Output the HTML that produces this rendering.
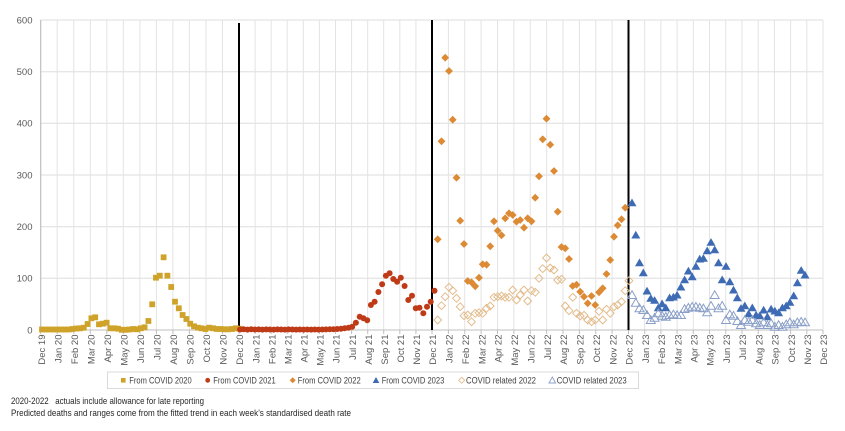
<!DOCTYPE html>
<html><head><meta charset="utf-8"><style>
html,body{margin:0;padding:0;background:#fff;}
svg{display:block;}
text{font-family:"Liberation Sans",Arial,sans-serif;}
</style></head><body>
<svg width="845" height="431" viewBox="0 0 845 431" xmlns="http://www.w3.org/2000/svg">
<defs>
<marker id="sq" markerUnits="userSpaceOnUse" markerWidth="10" markerHeight="10" refX="0" refY="0" overflow="visible"><rect x="-2.9" y="-2.9" width="5.8" height="5.8" fill="#CFA32A"/></marker>
<marker id="ci" markerUnits="userSpaceOnUse" markerWidth="10" markerHeight="10" refX="0" refY="0" overflow="visible"><circle r="3" fill="#BF3A17"/></marker>
<marker id="df" markerUnits="userSpaceOnUse" markerWidth="10" markerHeight="10" refX="0" refY="0" overflow="visible"><polygon points="0,-3.9 3.9,0 0,3.9 -3.9,0" fill="#DC8A34"/></marker>
<marker id="do" markerUnits="userSpaceOnUse" markerWidth="10" markerHeight="10" refX="0" refY="0" overflow="visible"><polygon points="0,-3.9 3.9,0 0,3.9 -3.9,0" fill="none" stroke="#E3BC8C" stroke-width="1"/></marker>
<marker id="tf" markerUnits="userSpaceOnUse" markerWidth="10" markerHeight="10" refX="0" refY="0" overflow="visible"><polygon points="0,-4.2 4.5,3.5 -4.5,3.5" fill="#3E6BB4"/></marker>
<marker id="to" markerUnits="userSpaceOnUse" markerWidth="10" markerHeight="10" refX="0" refY="0" overflow="visible"><polygon points="0,-4.2 4.5,3.5 -4.5,3.5" fill="none" stroke="#8BA0C8" stroke-width="1"/></marker>
</defs>
<rect width="845" height="431" fill="#fff"/>
<path d="M40.5 20H823M40.5 71.7H823M40.5 123.3H823M40.5 175H823M40.5 226.7H823M40.5 278.3H823" stroke="#dedede" stroke-width="1" fill="none"/>
<path d="M57.2 20V330M73.75 20V330M90.3 20V330M106.8 20V330M123.3 20V330M139.9 20V330M156.4 20V330M172.9 20V330M189.4 20V330M206 20V330M222.5 20V330M255.1 20V330M271.2 20V330M287.2 20V330M303.3 20V330M319.4 20V330M335.5 20V330M351.6 20V330M367.7 20V330M383.7 20V330M399.8 20V330M415.9 20V330M448.4 20V330M464.75 20V330M481.1 20V330M497.5 20V330M513.9 20V330M530.25 20V330M546.6 20V330M563 20V330M579.4 20V330M595.75 20V330M612.1 20V330M644.7 20V330M660.9 20V330M677.1 20V330M693.3 20V330M709.5 20V330M725.75 20V330M741.95 20V330M758.2 20V330M774.4 20V330M790.6 20V330M806.8 20V330M823 20V330" stroke="#e3e3e3" stroke-width="1" fill="none"/>
<path d="M40.7 20V330" stroke="#bfbfbf" stroke-width="1.2"/>
<path d="M40.7 330H823" stroke="#bfbfbf" stroke-width="1"/>
<path d="M40.7 330v4M57.2 330v4M73.75 330v4M90.3 330v4M106.8 330v4M123.3 330v4M139.9 330v4M156.4 330v4M172.9 330v4M189.4 330v4M206 330v4M222.5 330v4M239 330v4M255.1 330v4M271.2 330v4M287.2 330v4M303.3 330v4M319.4 330v4M335.5 330v4M351.6 330v4M367.7 330v4M383.7 330v4M399.8 330v4M415.9 330v4M432 330v4M448.4 330v4M464.75 330v4M481.1 330v4M497.5 330v4M513.9 330v4M530.25 330v4M546.6 330v4M563 330v4M579.4 330v4M595.75 330v4M612.1 330v4M628.5 330v4M644.7 330v4M660.9 330v4M677.1 330v4M693.3 330v4M709.5 330v4M725.75 330v4M741.95 330v4M758.2 330v4M774.4 330v4M790.6 330v4M806.8 330v4M823 330v4" stroke="#bfbfbf" stroke-width="1"/>
<path d="M239 23V330M432 20V330M628.5 20V330" stroke="#000" stroke-width="2"/>
<g font-size="9.5" fill="#595959" text-anchor="end">
<text x="32.5" y="23.3">600</text>
<text x="32.5" y="75">500</text>
<text x="32.5" y="126.6">400</text>
<text x="32.5" y="178.3">300</text>
<text x="32.5" y="230">200</text>
<text x="32.5" y="281.6">100</text>
<text x="32.5" y="333.3">0</text>
</g>
<g font-size="9.5" fill="#595959" text-anchor="end">
<text transform="translate(44.9,334.5) rotate(-90)">Dec 19</text>
<text transform="translate(61.4,334.5) rotate(-90)">Jan 20</text>
<text transform="translate(77.95,334.5) rotate(-90)">Feb 20</text>
<text transform="translate(94.5,334.5) rotate(-90)">Mar 20</text>
<text transform="translate(111,334.5) rotate(-90)">Apr 20</text>
<text transform="translate(127.5,334.5) rotate(-90)">May 20</text>
<text transform="translate(144.1,334.5) rotate(-90)">Jun 20</text>
<text transform="translate(160.6,334.5) rotate(-90)">Jul 20</text>
<text transform="translate(177.1,334.5) rotate(-90)">Aug 20</text>
<text transform="translate(193.6,334.5) rotate(-90)">Sep 20</text>
<text transform="translate(210.2,334.5) rotate(-90)">Oct 20</text>
<text transform="translate(226.7,334.5) rotate(-90)">Nov 20</text>
<text transform="translate(243.2,334.5) rotate(-90)">Dec 20</text>
<text transform="translate(259.3,334.5) rotate(-90)">Jan 21</text>
<text transform="translate(275.4,334.5) rotate(-90)">Feb 21</text>
<text transform="translate(291.4,334.5) rotate(-90)">Mar 21</text>
<text transform="translate(307.5,334.5) rotate(-90)">Apr 21</text>
<text transform="translate(323.6,334.5) rotate(-90)">May 21</text>
<text transform="translate(339.7,334.5) rotate(-90)">Jun 21</text>
<text transform="translate(355.8,334.5) rotate(-90)">Jul 21</text>
<text transform="translate(371.9,334.5) rotate(-90)">Aug 21</text>
<text transform="translate(387.9,334.5) rotate(-90)">Sep 21</text>
<text transform="translate(404,334.5) rotate(-90)">Oct 21</text>
<text transform="translate(420.1,334.5) rotate(-90)">Nov 21</text>
<text transform="translate(436.2,334.5) rotate(-90)">Dec 21</text>
<text transform="translate(452.6,334.5) rotate(-90)">Jan 22</text>
<text transform="translate(468.95,334.5) rotate(-90)">Feb 22</text>
<text transform="translate(485.3,334.5) rotate(-90)">Mar 22</text>
<text transform="translate(501.7,334.5) rotate(-90)">Apr 22</text>
<text transform="translate(518.1,334.5) rotate(-90)">May 22</text>
<text transform="translate(534.45,334.5) rotate(-90)">Jun 22</text>
<text transform="translate(550.8,334.5) rotate(-90)">Jul 22</text>
<text transform="translate(567.2,334.5) rotate(-90)">Aug 22</text>
<text transform="translate(583.6,334.5) rotate(-90)">Sep 22</text>
<text transform="translate(599.95,334.5) rotate(-90)">Oct 22</text>
<text transform="translate(616.3,334.5) rotate(-90)">Nov 22</text>
<text transform="translate(632.7,334.5) rotate(-90)">Dec 22</text>
<text transform="translate(648.9,334.5) rotate(-90)">Jan 23</text>
<text transform="translate(665.1,334.5) rotate(-90)">Feb 23</text>
<text transform="translate(681.3,334.5) rotate(-90)">Mar 23</text>
<text transform="translate(697.5,334.5) rotate(-90)">Apr 23</text>
<text transform="translate(713.7,334.5) rotate(-90)">May 23</text>
<text transform="translate(729.95,334.5) rotate(-90)">Jun 23</text>
<text transform="translate(746.15,334.5) rotate(-90)">Jul 23</text>
<text transform="translate(762.4,334.5) rotate(-90)">Aug 23</text>
<text transform="translate(778.6,334.5) rotate(-90)">Sep 23</text>
<text transform="translate(794.8,334.5) rotate(-90)">Oct 23</text>
<text transform="translate(811,334.5) rotate(-90)">Nov 23</text>
<text transform="translate(827.2,334.5) rotate(-90)">Dec 23</text>
</g>
<g fill="none" stroke="none">
<polyline marker-start="url(#sq)" marker-mid="url(#sq)" marker-end="url(#sq)" points="42,329.5 45.8,329.5 49.6,329.5 53.4,329.5 57.2,329.5 61,329.5 64.8,329.5 68.6,329.5 72.4,329 76.2,328.5 80,328.3 83.8,327.7 87.6,324 91.4,318.3 95.2,317.3 99,324.3 102.8,323.7 106.6,322.7 110.4,328.3 114.2,328.3 118,328.7 121.8,329.8 125.6,329.8 129.4,329.5 133.2,329 137,329.3 140.8,328.3 144.6,327.3 148.4,321 152.2,304.3 156,277.7 159.8,275.7 163.6,257.3 167.4,275.7 171.2,287 175,301.7 178.8,308.3 182.6,315 186.4,319 190.2,323.7 194,326.3 197.8,327.7 201.6,328.3 205.4,329 209.2,327.7 213,328.3 216.8,329 220.6,329 224.4,329.3 228.2,329.3 232,329 235.8,328.3 239.6,328.7"/>
<polyline marker-start="url(#ci)" marker-mid="url(#ci)" marker-end="url(#ci)" points="240,329.5 243.7,329.3 247.5,329.6 251.2,329.3 255,329.5 258.7,329.4 262.4,329.6 266.2,329.4 269.9,329.5 273.7,329.6 277.4,329.4 281.1,329.5 284.9,329.6 288.6,329.4 292.4,329.5 296.1,329.6 299.8,329.5 303.6,329.6 307.3,329.5 311.1,329.6 314.8,329.5 318.5,329.6 322.3,329.5 326,329.4 329.8,329.3 333.5,329.2 337.2,329 341,328.7 344.7,328.3 348.5,327.7 352.2,326.7 355.9,322.7 359.7,316.7 363.4,318.3 367.2,320.3 370.9,305 374.6,301.7 378.4,292 382.1,284.3 385.9,275.7 389.6,273.3 393.3,279 397.1,281.7 400.8,277.7 404.6,286 408.3,300 412,295.7 415.8,308.3 419.5,307.7 423.3,313.3 427,306.7 430.7,301.7 434.5,290.7"/>
<polyline marker-start="url(#df)" marker-mid="url(#df)" marker-end="url(#df)" points="437.7,239.3 441.5,141.3 445.2,57.7 449,71 452.7,119.7 456.5,177.7 460.2,220.7 464,244 467.7,281 471.5,282.3 475.2,286.3 479,277.7 482.7,264.3 486.5,264.7 490.2,246.3 494,221.3 497.7,230.7 501.5,235.3 505.2,218.3 509,213.3 512.7,215 516.5,221.7 520.2,220 524,227.7 527.7,218.3 531.5,221.3 535.2,197.7 539,176.3 542.7,139.3 546.5,118.7 550.2,144.7 554,171 557.7,211.7 561.5,247 565.2,248.3 569,259 572.7,286 576.5,284.7 580.2,291.7 584,296.7 587.7,303.3 591.5,296 595.2,305 599,292.3 602.7,288.3 606.5,274 610.2,260 614,236.7 617.7,225.3 621.5,219.3 625.2,207.7"/>
<polyline marker-start="url(#tf)" marker-mid="url(#tf)" marker-end="url(#tf)" points="632,202.7 635.8,235 639.5,262.7 643.3,272.7 647,291 650.8,298.3 654.6,300.3 658.3,307.7 662.1,303.7 665.8,307.7 669.6,297.7 673.4,297 677.1,295 680.9,287 684.6,279.7 688.4,271 692.2,276.7 695.9,266.3 699.7,259 703.4,258.3 707.2,250.7 711,242.3 714.7,249.7 718.5,262.7 722.2,279.7 726,266.3 729.8,281.7 733.5,290 737.3,297.7 741,308.3 744.8,305.7 748.6,313.7 752.3,307.7 756.1,315 759.8,315.7 763.6,310 767.4,316.7 771.1,309 774.9,311 778.6,312.7 782.4,307.7 786.2,305.7 789.9,302.3 793.7,295.7 797.4,282.7 801.2,270.3 805,275"/>
<polyline marker-start="url(#do)" marker-mid="url(#do)" marker-end="url(#do)" points="437.7,320 441.5,305.7 445.2,296.7 449,287.3 452.7,290.7 456.5,298.3 460.2,306.7 464,315.7 467.7,315 471.5,321.7 475.2,313.3 479,312.7 482.7,313.3 486.5,308.3 490.2,306 494,297.3 497.7,296.7 501.5,296 505.2,297.3 509,297.3 512.7,290 516.5,300 520.2,295 524,290 527.7,301 531.5,290.7 535.2,292.3 539,278.3 542.7,268.7 546.5,258 550.2,268 554,270 557.7,280 561.5,279.3 565.2,306 569,310.7 572.7,297.3 576.5,313.3 580.2,316 584,315.3 587.7,320 591.5,321.7 595.2,320 599,311.3 602.7,320 606.5,309.3 610.2,313.3 614,306.7 617.7,305 621.5,301.7 625.2,290.7 629,280.7"/>
<polyline marker-start="url(#to)" marker-mid="url(#to)" marker-end="url(#to)" points="632,295 635.8,302.7 639.5,308.3 643.3,310 647,315 650.8,320 654.6,317.7 658.3,313.3 662.1,315.7 665.8,316.7 669.6,315 673.4,314.3 677.1,315 680.9,315 684.6,309 688.4,307.7 692.2,306.7 695.9,306.7 699.7,307.7 703.4,308.3 707.2,312.3 711,305.7 714.7,295 718.5,308.3 722.2,305.7 726,320 729.8,314.3 733.5,315.7 737.3,321 741,325 744.8,320 748.6,321.7 752.3,320 756.1,323.3 759.8,325 763.6,322.3 767.4,325 771.1,323.3 774.9,326.7 778.6,325 782.4,326.7 786.2,324.3 789.9,322.3 793.7,324.3 797.4,322.3 801.2,321.7 805,322.3"/>
</g>
<rect x="107.5" y="372" width="531" height="16.5" fill="#fff" stroke="#d9d9d9" stroke-width="1"/>
<rect x="121" y="378" width="4.6" height="4.6" fill="#CFA32A"/>
<circle cx="207.7" cy="380.3" r="2.4" fill="#BF3A17"/>
<polygon points="292.7,377.3 295.7,380.3 292.7,383.3 289.7,380.3" fill="#DC8A34"/>
<polygon points="376,377 379.3,383 372.7,383" fill="#3E6BB4"/>
<polygon points="461.7,377.3 464.7,380.3 461.7,383.3 458.7,380.3" fill="none" stroke="#E3BC8C" stroke-width="0.9"/>
<polygon points="552.3,377 555.6,383 549,383" fill="none" stroke="#8BA0C8" stroke-width="0.9"/>
<g font-size="9.5" fill="#404040">
<text x="129.3" y="383.6" textLength="62.4" lengthAdjust="spacingAndGlyphs">From COVID 2020</text>
<text x="213.3" y="383.6" textLength="62.4" lengthAdjust="spacingAndGlyphs">From COVID 2021</text>
<text x="297.7" y="383.6" textLength="63" lengthAdjust="spacingAndGlyphs">From COVID 2022</text>
<text x="381.7" y="383.6" textLength="62.6" lengthAdjust="spacingAndGlyphs">From COVID 2023</text>
<text x="466" y="383.6" textLength="70" lengthAdjust="spacingAndGlyphs">COVID related 2022</text>
<text x="556.7" y="383.6" textLength="70" lengthAdjust="spacingAndGlyphs">COVID related 2023</text>
</g>
<g font-size="9.5" fill="#262626">
<text x="11" y="404" textLength="193" lengthAdjust="spacingAndGlyphs" style="white-space:pre" xml:space="preserve">2020-2022   actuals include allowance for late reporting</text>
<text x="11" y="416" textLength="340" lengthAdjust="spacingAndGlyphs">Predicted deaths and ranges come from the fitted trend in each week’s standardised death rate</text>
</g>
</svg>
</body></html>
